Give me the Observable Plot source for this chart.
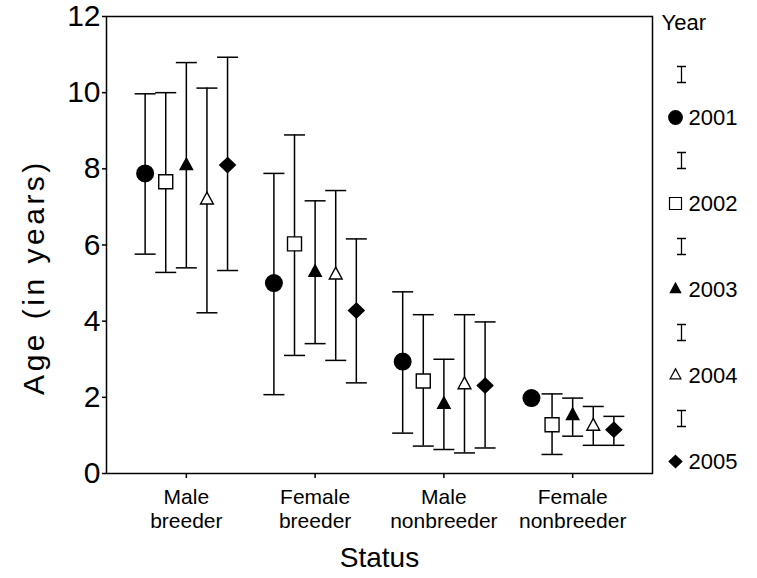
<!DOCTYPE html>
<html><head><meta charset="utf-8">
<script src="https://cdn.jsdelivr.net/npm/d3@7"></script>
<script src="https://cdn.jsdelivr.net/npm/@observablehq/plot@0.6"></script>
<style>
body{margin:0;background:#fff;}
#wrap{position:relative;width:757px;height:578px;font-family:"Liberation Sans",Arial,sans-serif;}
#main{position:absolute;left:0;top:0;}
#legend{position:absolute;left:652px;top:0;}
</style></head><body><div id="wrap"><div id="main"></div><div id="legend"></div></div>
<script>
// ---- data ----
const statuses = ["Male breeder","Female breeder","Male nonbreeder","Female nonbreeder"];
const statusTickLabels = ["Male\nbreeder","Female\nbreeder","Male\nnonbreeder","Female\nnonbreeder"];
const years = [2001,2002,2003,2004,2005];
const yTicks = [0,2,4,6,8,10,12];
// mean age per status, for each year
const mean2001 = [7.88,5.00,2.94,1.98];
const mean2002 = [7.66,6.03,2.43,1.28];
const mean2003 = [8.08,5.28,1.81,1.52];
const mean2004 = [7.18,5.21,2.33,1.24];
const mean2005 = [8.10,4.28,2.31,1.15];
// upper / lower ends of error bars (null = no bar)
const upper2001 = [9.97,7.88,4.77,null];
const upper2002 = [10.00,8.89,4.17,2.09];
const upper2003 = [10.79,7.16,3.00,1.98];
const upper2004 = [10.12,7.43,4.17,1.76];
const upper2005 = [10.93,6.16,3.98,1.50];
const lower2001 = [5.76,2.07,1.06,null];
const lower2002 = [5.28,3.10,0.72,0.50];
const lower2003 = [5.40,3.41,0.63,0.98];
const lower2004 = [4.22,2.97,0.54,0.74];
const lower2005 = [5.33,2.38,0.67,0.74];

const means = [mean2001,mean2002,mean2003,mean2004,mean2005];
const uppers = [upper2001,upper2002,upper2003,upper2004,upper2005];
const lowers = [lower2001,lower2002,lower2003,lower2004,lower2005];

const rows = [];
years.forEach((yr, i) => statuses.forEach((s, j) => {
  rows.push({status: s, si: j, year: yr, yi: i, pos: j + (i - 2) * 0.16,
    mean: means[i][j], hi: uppers[i][j], lo: lowers[i][j]});
}));
const barRows = rows.filter(d => d.hi != null && d.lo != null);

// ---- symbols (size = pi r^2, r = half width) ----
const R = s => Math.sqrt(s / Math.PI);
const symCircle = {draw(c, s){ const r = R(s); c.moveTo(r,0); c.arc(0,0,r,0,2*Math.PI); c.closePath(); }};
const symSquare = {draw(c, s){ const r = R(s); c.rect(-r,-r,2*r,2*r); }};
const symTri = {draw(c, s){ const r = R(s), h = r*1.85; c.moveTo(0,-h*2/3); c.lineTo(r,h/3); c.lineTo(-r,h/3); c.closePath(); }};
const symDiamond = {draw(c, s){ const r = R(s), v = r*0.95; c.moveTo(0,-v); c.lineTo(r,0); c.lineTo(0,v); c.lineTo(-r,0); c.closePath(); }};
const symCap = {draw(c, s){ const r = R(s); c.moveTo(-r,0); c.lineTo(r,0); }};
const symIbeam = {draw(c, s){ const w = 4.5, h = 8; c.moveTo(-w,-h); c.lineTo(w,-h); c.moveTo(0,-h); c.lineTo(0,h); c.moveTo(-w,h); c.lineTo(w,h); }};

const styleByYear = {
  2001: {symbol: symCircle, fill: "black", r: 8.3, lr: 6.8},
  2002: {symbol: symSquare, fill: "white", r: 7, lr: 6},
  2003: {symbol: symTri, fill: "black", r: 6.2, lr: 5.2},
  2004: {symbol: symTri, fill: "white", r: 6.4, lr: 5.4},
  2005: {symbol: symDiamond, fill: "black", r: 7.8, lr: 6.4}
};

const font = '"Liberation Sans", Arial, sans-serif';

const symbolMarks = years.map(yr => Plot.dot(rows.filter(d => d.year === yr), {
  x: "pos", y: "mean", symbol: styleByYear[yr].symbol, r: styleByYear[yr].r,
  fill: styleByYear[yr].fill, stroke: "black", strokeWidth: 1.4
}));

const main = Plot.plot({
  width: 657, height: 578,
  marginLeft: 106, marginRight: 5, marginTop: 16, marginBottom: 105,
  style: {fontFamily: font, background: "white", color: "black", overflow: "visible"},
  x: {domain: [-0.62, 3.62], axis: null},
  y: {domain: [0, 12], axis: null},
  marks: [
    Plot.axisY(yTicks, {tickSize: 4, tickPadding: 2, fontSize: 30, label: null, strokeWidth: 1.5}),
    Plot.axisX([0,1,2,3], {tickSize: 5, tickPadding: 9, fontSize: 21, lineHeight: 1.12,
      tickFormat: i => statusTickLabels[i], label: null, strokeWidth: 1.5}),
    Plot.ruleX(barRows, {x: "pos", y1: "lo", y2: "hi", stroke: "black", strokeWidth: 1.5}),
    Plot.dot(barRows, {x: "pos", y: "hi", symbol: symCap, r: 10.5, fill: "none", stroke: "black", strokeWidth: 1.5}),
    Plot.dot(barRows, {x: "pos", y: "lo", symbol: symCap, r: 10.5, fill: "none", stroke: "black", strokeWidth: 1.5}),
    ...symbolMarks,
    Plot.frame({stroke: "black", strokeWidth: 1.5}),
    Plot.text(["Status"], {frameAnchor: "bottom", dy: 93, fontSize: 28, fill: "black"}),
    Plot.text(["Age (in years)"], {frameAnchor: "left", textAnchor: "middle", rotate: -90, dx: -72, dy: 32, fontSize: 30, fill: "black"})
  ]
});
d3.select(main).selectAll("text").filter(function(){ return this.textContent === "Age (in years)"; })
  .attr("letter-spacing", 3.5);
document.getElementById("main").append(main);

const legend = Plot.plot({
  width: 105, height: 578,
  marginTop: 116, marginBottom: 116, marginLeft: 0, marginRight: 0,
  style: {fontFamily: font, background: "transparent", color: "black", overflow: "visible"},
  y: {type: "point", domain: years, padding: 0, axis: null},
  marks: [
    Plot.text(["Year"], {frameAnchor: "top-left", lineAnchor: "middle", dx: 9, dy: -94, textAnchor: "start", fontSize: 22, fill: "black"}),
    Plot.dot(years, {y: d => d, frameAnchor: "left", dx: 29, dy: -43, symbol: symIbeam, r: 5, fill: "none", stroke: "black", strokeWidth: 1.3}),
    ...years.map(yr => Plot.dot([yr], {y: d => d, frameAnchor: "left", dx: 23,
      symbol: styleByYear[yr].symbol, r: styleByYear[yr].lr, fill: styleByYear[yr].fill, stroke: "black", strokeWidth: 1.2})),
    Plot.text(years, {y: d => d, frameAnchor: "left", dx: 36, textAnchor: "start", fontSize: 22, fill: "black", text: d => String(d)})
  ]
});
document.getElementById("legend").append(legend);
</script>
</body></html>
